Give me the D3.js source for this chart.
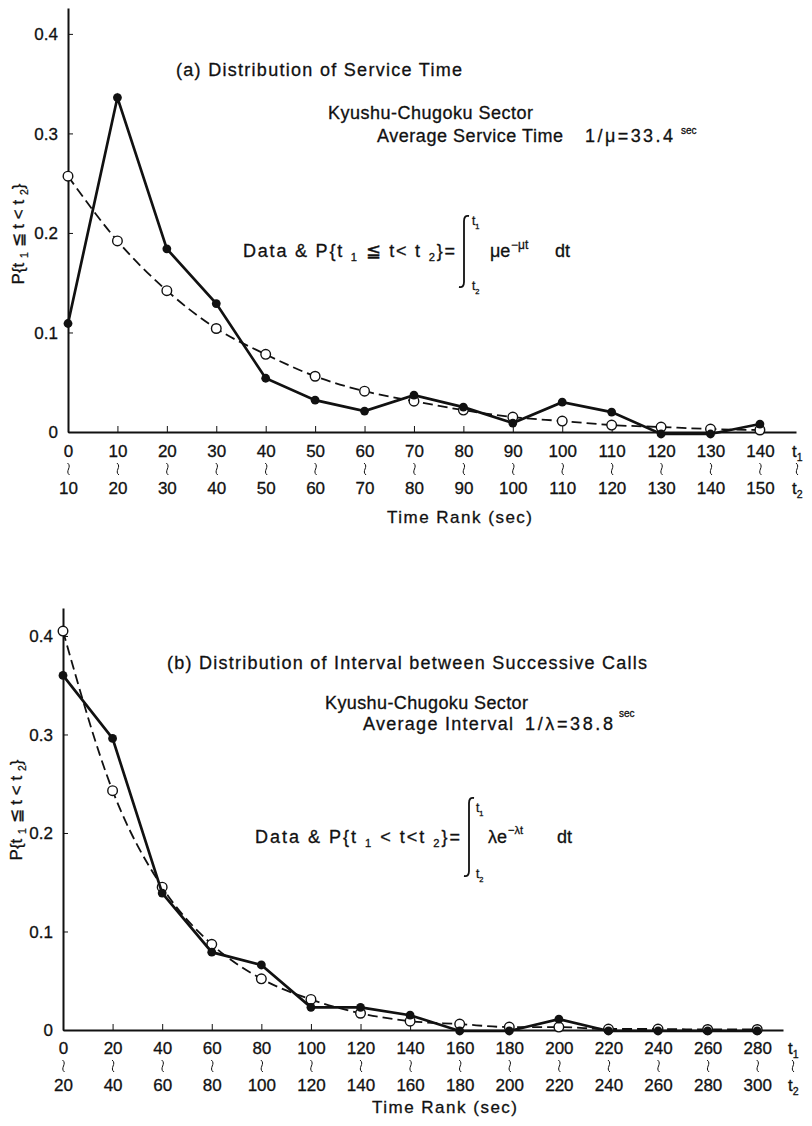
<!DOCTYPE html>
<html>
<head>
<meta charset="utf-8">
<script src="https://cdn.jsdelivr.net/npm/d3@7"></script>
<style>
  body { margin: 0; background: #fff; }
  svg { display: block; }
  text { font-family: "Liberation Sans", Arial, sans-serif; fill: #111; stroke: #111; stroke-width: 0.3px; }
  .tick line, .domain { stroke: #111; }
</style>
</head>
<body>
<svg id="fig" width="812" height="1126"></svg>
<script>
// (a) service time, classes of 10 sec
var serviceT1 = [0, 10, 20, 30, 40, 50, 60, 70, 80, 90, 100, 110, 120, 130, 140];
var serviceT2 = [10, 20, 30, 40, 50, 60, 70, 80, 90, 100, 110, 120, 130, 140, 150];
var serviceData = [0.109, 0.336, 0.184, 0.129, 0.054, 0.032, 0.021, 0.037, 0.025, 0.009, 0.030, 0.020, -0.002, -0.002, 0.008];
var serviceFit  = [0.257, 0.192, 0.142, 0.104, 0.078, 0.056, 0.041, 0.031, 0.022, 0.015, 0.011, 0.007, 0.005, 0.003, 0.002];

// (b) interval between calls, classes of 20 sec
var intervalT1 = [0, 20, 40, 60, 80, 100, 120, 140, 160, 180, 200, 220, 240, 260, 280];
var intervalT2 = [20, 40, 60, 80, 100, 120, 140, 160, 180, 200, 220, 240, 260, 280, 300];
var intervalData = [0.360, 0.296, 0.139, 0.079, 0.066, 0.023, 0.023, 0.015, -0.001, -0.001, 0.011, -0.001, -0.001, -0.001, -0.001];
var intervalFit  = [0.405, 0.243, 0.145, 0.087, 0.052, 0.031, 0.017, 0.009, 0.006, 0.003, 0.003, 0.001, 0.001, 0.0005, 0.0005];

var yTicks = [0, 0.1, 0.2, 0.3, 0.4];

var svg = d3.select("#fig");

// small vertical wave between t1 and t2 rows
function squiggle(sel, x, y) {
	sel.append("path")
		.attr("d", "M" + (x - 1) + "," + (y - 6) + " C" + (x + 4) + "," + (y - 2) + " " + (x - 4) + "," + (y + 2) + " " + (x + 1) + "," + (y + 6))
		.attr("fill", "none").attr("stroke", "#111").attr("stroke-width", 1);
}

function panel(cfg) {
	var g = svg.append("g");
	var x = d3.scaleLinear().domain([0, cfg.xMax]).range([cfg.x0, cfg.x1]);
	var y = d3.scaleLinear().domain([0, cfg.yMax]).range([cfg.yBase, cfg.yTop]);

	// y axis, ticks pointing inward
	g.append("g")
		.attr("transform", "translate(" + cfg.x0 + ",0)")
		.call(d3.axisLeft(y).tickValues(yTicks).tickSize(-5).tickSizeOuter(0).tickPadding(10)
			.tickFormat(function(d) { return d === 0 ? "0" : d3.format(".1f")(d); }))
		.call(function(a) {
			a.select(".domain").attr("stroke-width", 2);
			a.selectAll("text").style("font-size", "17px").attr("dy", "0.35em");
		});

	// x axis with two-row class labels
	var xa = g.append("g")
		.attr("transform", "translate(0," + cfg.yBase + ")")
		.call(d3.axisBottom(x).tickValues(d3.range(cfg.t1.length)).tickSize(-6).tickSizeOuter(0).tickFormat(""));
	xa.select(".domain").attr("stroke-width", 2);
	xa.selectAll(".tick").each(function(d) {
		var t = d3.select(this);
		t.append("text").attr("y", cfg.row1).attr("text-anchor", "middle").style("font-size", "17px").text(cfg.t1[d]);
		squiggle(t, 0, cfg.row1 + 12);
		t.append("text").attr("y", cfg.row1 + 37).attr("text-anchor", "middle").style("font-size", "17px").text(cfg.t2[d]);
	});
	// t1 / t2 at the end of the axis
	var tx = cfg.tEnd;
	rich(g, tx, cfg.yBase + cfg.row1, [["t", ""], ["1", "sub"]], 17);
	squiggle(g, tx + 5, cfg.yBase + cfg.row1 + 12);
	rich(g, tx, cfg.yBase + cfg.row1 + 37, [["t", ""], ["2", "sub"]], 17);

	g.append("text")
		.attr("x", cfg.xTitle).attr("y", cfg.xTitleY)
		.style("font-size", "17px").attr("textLength", 145).attr("lengthAdjust", "spacing")
		.text("Time Rank (sec)");

	// y label
	rich(g, 0, 0, [["P{t ", ""], ["1", "sub"], [" \u2266 t < t ", ""], ["2", "sub"], ["}", ""]], 17)
		.attr("transform", "translate(" + cfg.yLabX + "," + cfg.yLabY + ") rotate(-90)")
		.attr("text-anchor", "middle");

	// fitted curve (dashed, open circles)
	var fitLine = d3.line().x(function(d, i) { return x(i); }).y(function(d) { return y(d); }).curve(d3.curveMonotoneX);
	g.append("path").datum(cfg.fit)
		.attr("d", fitLine).attr("fill", "none").attr("stroke", "#111")
		.attr("stroke-width", 1.8).attr("stroke-dasharray", "10,5");
	g.selectAll(".open").data(cfg.fit).enter().append("circle")
		.attr("class", "open")
		.attr("cx", function(d, i) { return x(i); }).attr("cy", function(d) { return y(d); })
		.attr("r", 4.8).attr("fill", "#fff").attr("stroke", "#111").attr("stroke-width", 1.4);

	// observed data (solid, filled dots)
	var dataLine = d3.line().x(function(d, i) { return x(i); }).y(function(d) { return y(d); });
	g.append("path").datum(cfg.data)
		.attr("d", dataLine).attr("fill", "none").attr("stroke", "#111").attr("stroke-width", 2.7);
	g.selectAll(".dot").data(cfg.data).enter().append("circle")
		.attr("class", "dot")
		.attr("cx", function(d, i) { return x(i); }).attr("cy", function(d) { return y(d); })
		.attr("r", 4.4).attr("fill", "#111");
	return g;
}

function rich(g, x, y, parts, size) {
	var t = g.append("text").attr("x", x).attr("y", y).style("font-size", size + "px");
	var prev = "";
	parts.forEach(function(p) {
		var s = t.append("tspan").text(p[0]);
		var dy = 0;
		if (prev === "sub") dy -= 4;
		if (prev === "sup") dy += 8;
		if (p[1] === "sub") { dy += 4; s.style("font-size", (size * 0.62) + "px"); }
		if (p[1] === "sup") { dy -= 8; s.style("font-size", (size * 0.68) + "px"); }
		if (dy) s.attr("dy", dy);
		prev = p[1];
	});
	return t;
}

function label(x, y, str, size, len) {
	var t = svg.append("text").attr("x", x).attr("y", y).style("font-size", size + "px").text(str);
	if (len) t.attr("textLength", len).attr("lengthAdjust", "spacing");
	return t;
}

function integral(x, yTop, yBot) {
	var p = d3.path();
	p.moveTo(x + 5, yTop + 1);
	p.quadraticCurveTo(x, yTop, x, yTop + 6);
	p.lineTo(x, yBot - 6);
	p.quadraticCurveTo(x, yBot, x - 5, yBot - 1);
	svg.append("path").attr("d", p.toString()).attr("fill", "none").attr("stroke", "#111").attr("stroke-width", 1.8);
}

// ---- panel (a)
panel({
	t1: serviceT1, t2: serviceT2, data: serviceData, fit: serviceFit,
	x0: 68, x1: 796, xMax: 14.73, yBase: 432, yTop: 8, yMax: 0.426,
	row1: 25, tEnd: 792, xTitle: 387, xTitleY: 523, yLabX: 24, yLabY: 234
});
label(176, 76, "(a) Distribution of Service Time", 18, 286);
label(328, 119, "Kyushu-Chugoku Sector", 18, 205);
label(377, 142, "Average Service Time", 18, 186);
label(585, 142, "1/\u03bc=33.4", 18, 88);
label(681, 134, "sec", 10);
rich(svg, 243, 257, [["Data & P{t ", ""], ["1", "sub"], [" \u2266 t< t ", ""], ["2", "sub"], ["}=", ""]], 18)
	.attr("textLength", 212).attr("lengthAdjust", "spacing");
integral(464, 215, 288);
rich(svg, 472, 225, [["t", ""], ["1", "sub"]], 12);
rich(svg, 472, 290, [["t", ""], ["2", "sub"]], 12);
label(490, 257, "\u03bce", 18);
label(511, 249, "\u2212\u03bct", 12);
label(555, 257, "dt", 18);

// ---- panel (b)
panel({
	t1: intervalT1, t2: intervalT2, data: intervalData, fit: intervalFit,
	x0: 63, x1: 783, xMax: 14.52, yBase: 1030, yTop: 608, yMax: 0.4284,
	row1: 24, tEnd: 788, xTitle: 372, xTitleY: 1113, yLabX: 22, yLabY: 810
});
label(167, 669, "(b) Distribution of Interval between Successive Calls", 18, 480);
label(325, 709, "Kyushu-Chugoku Sector", 18, 203);
label(363, 730, "Average Interval", 18, 150);
label(525, 730, "1/\u03bb=38.8", 18, 88);
label(619, 717, "sec", 10);
rich(svg, 255, 843, [["Data & P{t ", ""], ["1", "sub"], [" < t<t ", ""], ["2", "sub"], ["}=", ""]], 18)
	.attr("textLength", 205).attr("lengthAdjust", "spacing");
integral(469, 797, 877);
rich(svg, 476, 812, [["t", ""], ["1", "sub"]], 12);
rich(svg, 476, 878, [["t", ""], ["2", "sub"]], 12);
label(488, 843, "\u03bbe", 18);
label(508, 834, "\u2212\u03bbt", 11);
label(557, 843, "dt", 18);
</script>
</body>
</html>
